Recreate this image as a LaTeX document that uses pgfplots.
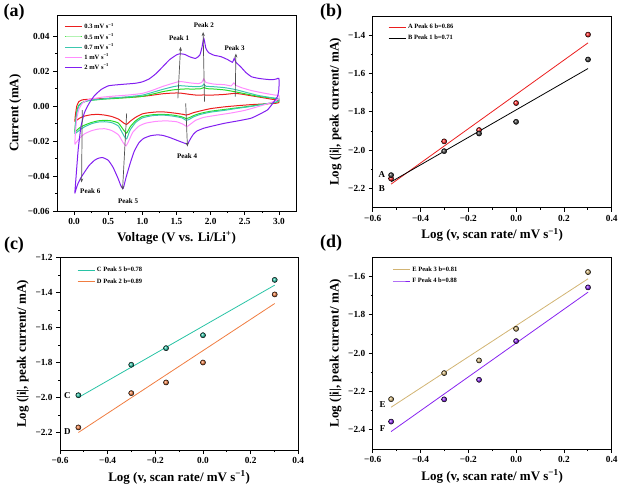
\documentclass[border=0pt]{standalone}
\usepackage{pgfplots}
\pgfplotsset{compat=1.18}
\usepackage{fontspec}
\setmainfont{Liberation Serif}
\usetikzlibrary{arrows.meta}
\definecolor{cvred}{RGB}{235,30,30}
\definecolor{cvgreen}{RGB}{40,220,40}
\definecolor{cvteal}{RGB}{60,200,175}
\definecolor{cvpink}{RGB}{255,140,255}
\definecolor{cvpurple}{RGB}{130,30,240}
\definecolor{cteal}{RGB}{40,195,165}
\definecolor{corange}{RGB}{240,125,65}
\definecolor{dtan}{RGB}{210,180,115}
\definecolor{dpurple}{RGB}{135,35,240}
\definecolor{arrowgray}{RGB}{80,80,80}
\pgfplotsset{
 panel/.style={
  scale only axis,
  anchor=south west,
  axis line style={line width=0.8pt},
  tick align=outside,
  xtick pos=left, ytick pos=left,
  minor tick num=1,
  scaled ticks=false,
  major tick length=4pt, minor tick length=2pt,
  every tick/.style={black, line width=0.7pt},
  tick label style={font=\bfseries\fontsize{9.3}{10}\selectfont},
  label style={font=\bfseries\fontsize{13}{14}\selectfont},
  legend cell align=left,
 },
 lg/.style 2 args={legend style={draw=none, fill=none, font=\bfseries\fontsize{6.5}{7}\selectfont, anchor=north west, row sep=#2, inner sep=0pt, at={(axis description cs:#1)}}},
 logpanel/.style={
  panel,
  xmin=-0.6, xmax=0.4,
  xtick={-0.6,-0.4,-0.2,0,0.2,0.4},
  xticklabels={−0.6,−0.4,−0.2,0.0,0.2,0.4},
  xlabel={Log (v, scan rate/ mV s\textsuperscript{−1})},
  ylabel={Log (|i|, peak current/ mA)},
 },
 fitline/.style={line width=0.8pt, no marks},
 pts/.style={only marks, mark=ball, mark size=2.6pt, forget plot},
}
\begin{document}
\begin{tikzpicture}
\useasboundingbox (0pt,0pt) rectangle (620pt,487pt);

% ---------------- (a) ----------------
\begin{axis}[panel, at={(57pt,276pt)}, width=239pt, height=196pt,
  xmin=-0.25, xmax=3.25, ymin=-0.06, ymax=0.052,
  xtick={0,0.5,1,1.5,2,2.5,3}, xticklabels={0.0,0.5,1.0,1.5,2.0,2.5,3.0},
  ytick={-0.06,-0.04,-0.02,0,0.02,0.04}, yticklabels={−0.06,−0.04,−0.02,0.00,0.02,0.04},
  xlabel={Voltage (V vs. Li/Li\textsuperscript{+})}, ylabel={Current (mA)},
  lg={0.03,0.968}{-1pt}]
\addplot[cvred, line width=1pt, smooth, tension=0.3] coordinates {
(0.01,-0.009) (0.02,-0.005) (0.04,0.0) (0.07,0.0025) (0.12,0.0035) (0.2,0.0038) (0.4,0.0042) (0.6,0.0046) (0.8,0.005) (1.0,0.0055) (1.15,0.0062) (1.3,0.007) (1.45,0.0074) (1.55,0.0074) (1.7,0.0066) (1.8,0.0062) (1.9,0.0063) (2.0,0.0062) (2.2,0.0066) (2.35,0.0072) (2.45,0.0068) (2.6,0.0058) (2.8,0.0045) (2.95,0.0035) (3.0,0.003)
(3.0,0.002) (2.95,0.0015) (2.8,0.0012) (2.6,0.0008) (2.4,0.0002) (2.2,-0.0005) (2.0,-0.0015) (1.85,-0.0028) (1.75,-0.0038) (1.68,-0.0048) (1.64,-0.0052) (1.6,-0.0048) (1.5,-0.0042) (1.35,-0.0035) (1.25,-0.0033) (1.1,-0.0038) (1.0,-0.0045) (0.9,-0.0065) (0.82,-0.0088) (0.77,-0.0105) (0.73,-0.0098) (0.65,-0.0075) (0.55,-0.006) (0.45,-0.0052) (0.35,-0.0048) (0.25,-0.005) (0.15,-0.0058) (0.08,-0.007) (0.01,-0.009)};
\addlegendentry{0.3 mV s\textsuperscript{−1}}
\addplot[cvgreen, line width=1pt, smooth, tension=0.3] coordinates {
(0.01,-0.015) (0.02,-0.010) (0.04,-0.003) (0.07,0.0005) (0.12,0.002) (0.2,0.003) (0.4,0.0038) (0.6,0.0043) (0.8,0.0048) (1.0,0.0055) (1.15,0.0068) (1.3,0.0082) (1.45,0.0092) (1.6,0.0097) (1.75,0.0097) (1.85,0.0098) (1.9,0.0105) (1.95,0.0099) (2.05,0.0097) (2.2,0.0092) (2.35,0.0082) (2.5,0.007) (2.7,0.0055) (2.9,0.0045) (3.0,0.004)
(3.0,0.0028) (2.95,0.002) (2.8,0.0012) (2.6,0.0) (2.4,-0.001) (2.2,-0.002) (2.0,-0.003) (1.85,-0.0042) (1.75,-0.0055) (1.68,-0.0068) (1.64,-0.0072) (1.58,-0.0062) (1.45,-0.0052) (1.3,-0.0048) (1.15,-0.005) (1.0,-0.006) (0.9,-0.0085) (0.82,-0.012) (0.77,-0.0155) (0.73,-0.014) (0.65,-0.0098) (0.55,-0.0085) (0.45,-0.0082) (0.35,-0.0085) (0.25,-0.0095) (0.15,-0.011) (0.08,-0.0125) (0.01,-0.015)};
\addlegendentry{0.5 mV s\textsuperscript{−1}}
\addplot[cvteal, line width=1pt, smooth, tension=0.3] coordinates {
(0.01,-0.016) (0.02,-0.011) (0.04,-0.004) (0.07,0.0) (0.12,0.0018) (0.2,0.003) (0.4,0.004) (0.6,0.0047) (0.8,0.0053) (1.0,0.0062) (1.15,0.0078) (1.3,0.0095) (1.45,0.011) (1.55,0.0116) (1.7,0.0112) (1.82,0.011) (1.88,0.0115) (1.9,0.0125) (1.93,0.0113) (2.05,0.011) (2.2,0.0105) (2.35,0.0095) (2.5,0.008) (2.7,0.006) (2.9,0.0047) (3.0,0.0042)
(3.0,0.003) (2.95,0.0022) (2.8,0.0012) (2.6,-0.0002) (2.4,-0.0013) (2.2,-0.0025) (2.0,-0.0035) (1.85,-0.0048) (1.75,-0.0062) (1.68,-0.0078) (1.64,-0.0082) (1.58,-0.0068) (1.45,-0.0058) (1.3,-0.0052) (1.15,-0.0055) (1.0,-0.0068) (0.9,-0.0095) (0.82,-0.0138) (0.77,-0.0188) (0.73,-0.017) (0.65,-0.0115) (0.55,-0.0095) (0.45,-0.009) (0.35,-0.0092) (0.25,-0.0102) (0.15,-0.012) (0.08,-0.0138) (0.01,-0.016)};
\addlegendentry{0.7 mV s\textsuperscript{−1}}
\addplot[cvpink, line width=1pt, smooth, tension=0.3] coordinates {
(0.01,-0.022) (0.02,-0.015) (0.04,-0.007) (0.07,-0.002) (0.12,0.0015) (0.2,0.0035) (0.4,0.005) (0.6,0.0057) (0.8,0.0063) (1.0,0.0072) (1.15,0.009) (1.3,0.0112) (1.45,0.013) (1.55,0.014) (1.7,0.0132) (1.82,0.0128) (1.87,0.0135) (1.9,0.0155) (1.93,0.0135) (2.05,0.0125) (2.2,0.0122) (2.3,0.0115) (2.34,0.0132) (2.37,0.0118) (2.45,0.0105) (2.6,0.0088) (2.8,0.0072) (2.95,0.0062) (3.0,0.006)
(3.0,0.0042) (2.95,0.003) (2.85,0.0015) (2.7,-0.0003) (2.5,-0.0025) (2.3,-0.004) (2.1,-0.0052) (1.9,-0.0065) (1.78,-0.0082) (1.7,-0.0105) (1.65,-0.0118) (1.6,-0.0105) (1.5,-0.009) (1.35,-0.0085) (1.2,-0.0088) (1.05,-0.0098) (0.95,-0.0115) (0.86,-0.015) (0.8,-0.02) (0.76,-0.0228) (0.72,-0.021) (0.65,-0.0165) (0.55,-0.014) (0.45,-0.013) (0.35,-0.0132) (0.25,-0.0142) (0.15,-0.016) (0.08,-0.0185) (0.01,-0.022)};
\addlegendentry{1 mV s\textsuperscript{−1}}
\addplot[cvpurple, line width=1pt, smooth, tension=0.3] coordinates {
(0.01,-0.050) (0.03,-0.040) (0.06,-0.025) (0.10,-0.012) (0.15,-0.004) (0.22,0.0015) (0.3,0.006) (0.4,0.0095) (0.5,0.0115) (0.6,0.012) (0.75,0.0125) (0.9,0.013) (1.0,0.0138) (1.1,0.0155) (1.2,0.0185) (1.3,0.0225) (1.4,0.0265) (1.5,0.0292) (1.55,0.0298) (1.62,0.0295) (1.7,0.028) (1.78,0.0272) (1.84,0.029) (1.87,0.033) (1.9,0.0386) (1.93,0.033) (1.97,0.0305) (2.05,0.029) (2.15,0.0282) (2.25,0.0265) (2.32,0.025) (2.345,0.0272) (2.37,0.025) (2.44,0.0224) (2.52,0.019) (2.6,0.0167) (2.7,0.0158) (2.8,0.0153) (2.9,0.015) (2.97,0.0155) (3.0,0.0158)
(3.0,0.010) (2.98,0.0055) (2.9,0.001) (2.83,-0.0023) (2.7,-0.005) (2.59,-0.007) (2.4,-0.0085) (2.2,-0.0099) (2.0,-0.0117) (1.9,-0.0127) (1.8,-0.0143) (1.75,-0.016) (1.71,-0.0184) (1.68,-0.0205) (1.66,-0.0218)
(1.6,-0.021) (1.5,-0.0195) (1.4,-0.018) (1.3,-0.0168) (1.22,-0.0165) (1.12,-0.017) (1.02,-0.0185) (0.95,-0.021) (0.88,-0.026) (0.82,-0.033) (0.76,-0.041) (0.72,-0.047) (0.69,-0.046) (0.64,-0.041) (0.57,-0.035) (0.5,-0.031) (0.42,-0.0295) (0.36,-0.0298) (0.3,-0.031) (0.22,-0.034) (0.15,-0.038) (0.1,-0.041) (0.05,-0.045) (0.01,-0.050)};
\addlegendentry{2 mV s\textsuperscript{−1}}
% arrows
\begin{scope}[arrowgray, line width=0.7pt, -{Stealth[length=4pt,width=3pt]}]
\draw (axis cs:1.52,0.0044) -- (axis cs:1.56,0.0338);
\draw (axis cs:1.91,0.0025) -- (axis cs:1.89,0.0423);
\draw (axis cs:2.36,0.0053) -- (axis cs:2.37,0.030);
\draw (axis cs:1.635,0.0015) -- (axis cs:1.66,-0.0232);
\draw (axis cs:0.77,-0.0042) -- (axis cs:0.71,-0.0479);
\draw (axis cs:0.12,-0.0023) -- (axis cs:0.11,-0.0437);
\end{scope}
\begin{scope}[every node/.style={font=\bfseries\fontsize{7}{8}\selectfont, inner sep=0pt}]
\node at (axis cs:1.537,0.0389) {Peak 1};
\node at (axis cs:1.90,0.0462) {Peak 2};
\node at (axis cs:2.35,0.0332) {Peak 3};
\node at (axis cs:1.655,-0.0289) {Peak 4};
\node at (axis cs:0.79,-0.0545) {Peak 5};
\node at (axis cs:0.237,-0.0488) {Peak 6};
\end{scope}
\end{axis}

% ---------------- (b) ----------------
\begin{axis}[logpanel, at={(372.7pt,279.3pt)}, width=239pt, height=191.7pt,
  ymin=-2.3, ymax=-1.3,
  ytick={-2.2,-2.0,-1.8,-1.6,-1.4}, yticklabels={−2.2,−2.0,−1.8,−1.6,−1.4},
  lg={0.064,0.97}{1.2pt}]
\addplot[fitline, cvred] coordinates {(-0.523,-2.177) (0.301,-1.44)};
\addlegendentry{A Peak 6 b=0.86}
\addplot[fitline, black] coordinates {(-0.523,-2.165) (0.301,-1.574)};
\addlegendentry{B Peak 1 b=0.71}
\addplot[pts, ball color=red!85!white] coordinates {(-0.523,-2.148) (-0.301,-1.954) (-0.155,-1.895) (0,-1.754) (0.301,-1.397)};
\addplot[pts, ball color=black!75] coordinates {(-0.523,-2.130) (-0.301,-2.005) (-0.155,-1.913) (0,-1.852) (0.301,-1.527)};
\node[font=\bfseries\fontsize{9}{10}\selectfont] at (axis cs:-0.562,-2.125) {A};
\node[font=\bfseries\fontsize{9}{10}\selectfont] at (axis cs:-0.562,-2.200) {B};
\end{axis}

% ---------------- (c) ----------------
\begin{axis}[logpanel, at={(60pt,37pt)}, width=238.3pt, height=192.5pt,
  ymin=-2.3, ymax=-1.2,
  ytick={-2.2,-2.0,-1.8,-1.6,-1.4,-1.2}, yticklabels={−2.2,−2.0,−1.8,−1.6,−1.4,−1.2},
  lg={0.071,0.96}{1.2pt}]
\addplot[fitline, cteal] coordinates {(-0.523,-2.0) (0.301,-1.358)};
\addlegendentry{C Peak 5 b=0.78}
\addplot[fitline, corange] coordinates {(-0.523,-2.2) (0.301,-1.463)};
\addlegendentry{D Peak 2 b=0.89}
\addplot[pts, ball color=cteal] coordinates {(-0.523,-1.987) (-0.301,-1.813) (-0.155,-1.718) (0,-1.644) (0.301,-1.328)};
\addplot[pts, ball color=corange] coordinates {(-0.523,-2.171) (-0.301,-1.975) (-0.155,-1.914) (0,-1.800) (0.301,-1.411)};
\node[font=\bfseries\fontsize{9}{10}\selectfont] at (axis cs:-0.569,-1.991) {C};
\node[font=\bfseries\fontsize{9}{10}\selectfont] at (axis cs:-0.569,-2.197) {D};
\end{axis}

% ---------------- (d) ----------------
\begin{axis}[logpanel, at={(372.7pt,38pt)}, width=239pt, height=191.7pt,
  ymin=-2.5, ymax=-1.5,
  ytick={-2.4,-2.2,-2.0,-1.8,-1.6}, yticklabels={−2.4,−2.2,−2.0,−1.8,−1.6},
  lg={0.082,0.962}{1.2pt}]
\addplot[fitline, dtan] coordinates {(-0.523,-2.282) (0.301,-1.612)};
\addlegendentry{E Peak 3 b=0.81}
\addplot[fitline, dpurple] coordinates {(-0.523,-2.409) (0.301,-1.682)};
\addlegendentry{F Peak 4 b=0.88}
\addplot[pts, ball color=dtan] coordinates {(-0.523,-2.240) (-0.301,-2.104) (-0.155,-2.038) (0,-1.873) (0.301,-1.577)};
\addplot[pts, ball color=dpurple] coordinates {(-0.523,-2.357) (-0.301,-2.241) (-0.155,-2.139) (0,-1.937) (0.301,-1.657)};
\node[font=\bfseries\fontsize{9}{10}\selectfont] at (axis cs:-0.558,-2.269) {E};
\node[font=\bfseries\fontsize{9}{10}\selectfont] at (axis cs:-0.558,-2.394) {F};
\end{axis}

% panel letters
\begin{scope}[every node/.style={font=\bfseries\fontsize{18}{20}\selectfont, inner sep=0pt}]
\node at (14pt,475pt) {(a)};
\node at (331pt,475pt) {(b)};
\node at (14pt,242pt) {(c)};
\node at (331pt,244pt) {(d)};
\end{scope}
\end{tikzpicture}
\end{document}
